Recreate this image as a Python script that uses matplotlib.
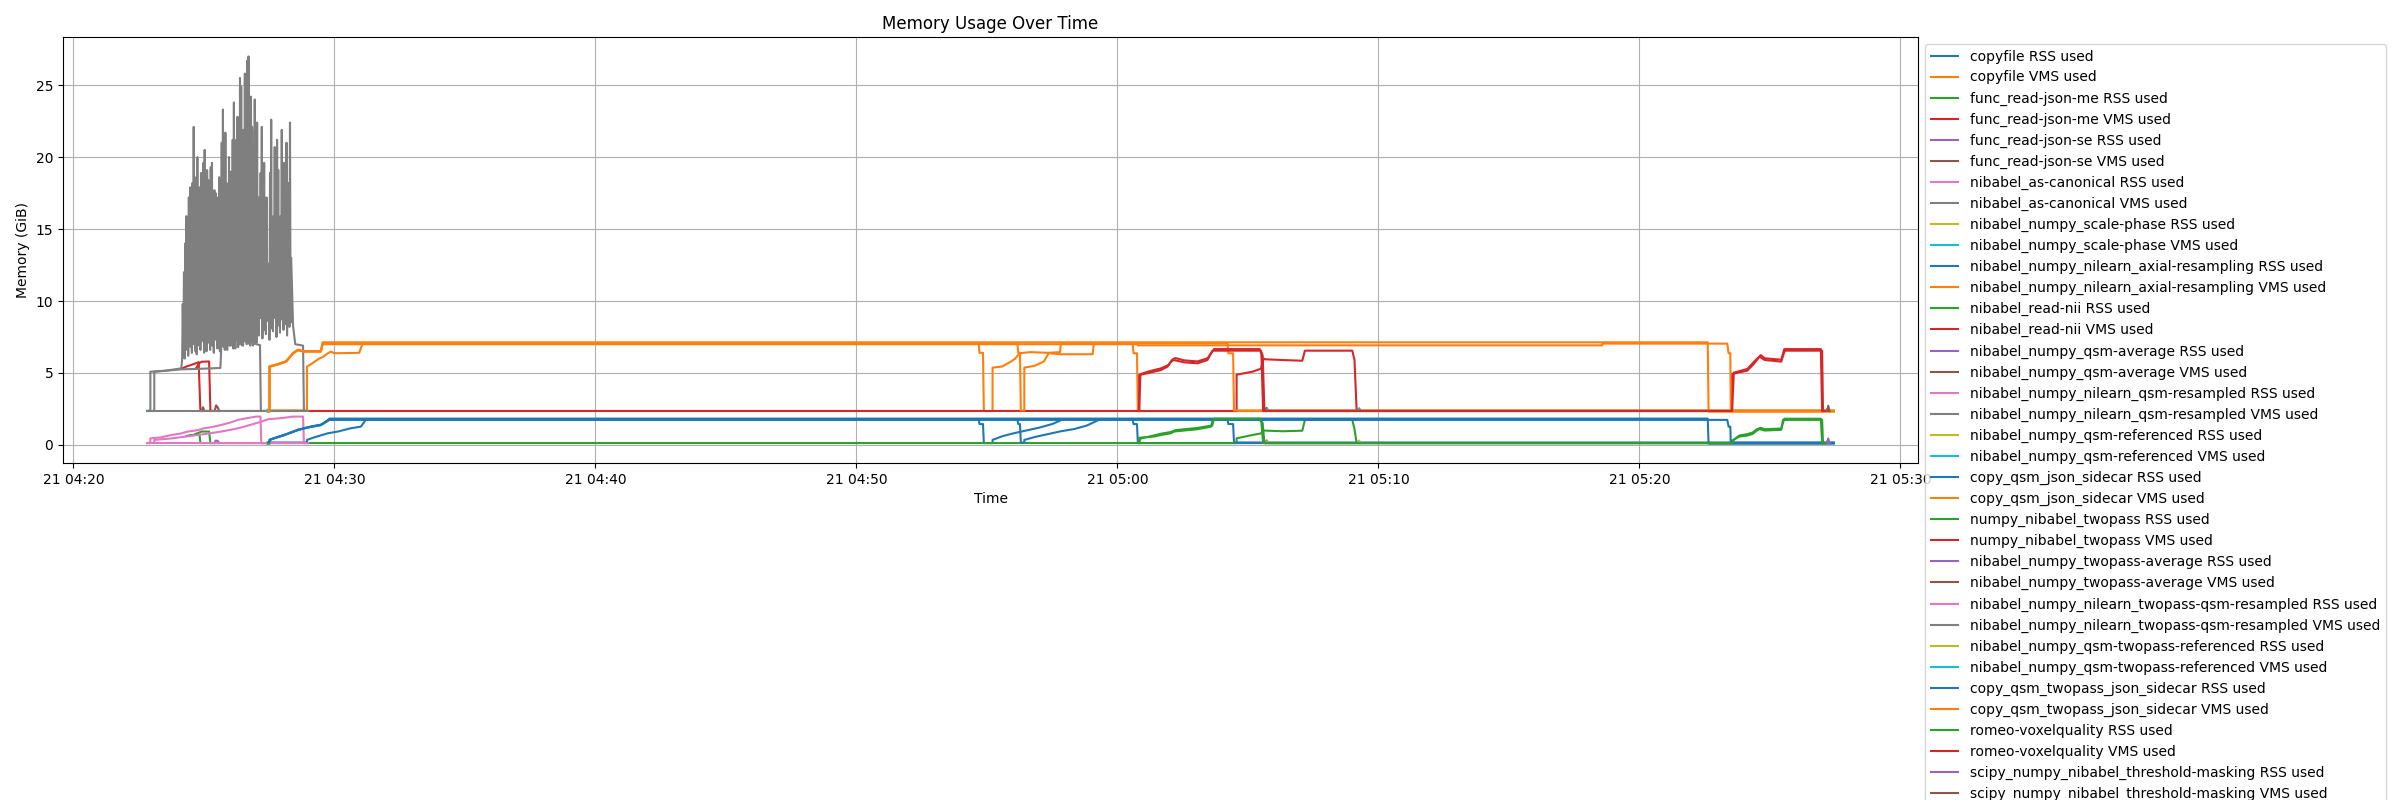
import matplotlib
matplotlib.use("Agg")
import matplotlib.pyplot as plt
import pandas as pd

DAY = "2024-05-21"

# (clock time, GiB) points per series; between jobs a line sits at its idle level
copyfile_rss = [
    ("04:27:27", 0.13), ("04:27:31", 0.13), ("04:27:31", 0.35), ("04:27:42", 0.46), ("04:28:05", 0.69),
    ("04:28:20", 0.86), ("04:28:36", 1.04), ("04:28:51", 1.16), ("04:29:07", 1.27), ("04:29:29", 1.39),
    ("04:29:41", 1.62), ("04:29:49", 1.78), ("04:54:41", 1.78), ("04:54:43", 1.45), ("04:54:51", 1.45),
    ("04:54:53", 0.13), ("04:55:13", 0.13), ("04:55:13", 0.35), ("04:55:35", 0.60), ("04:56:00", 0.80),
    ("04:56:30", 1.00), ("04:57:00", 1.20), ("04:57:30", 1.45), ("04:57:55", 1.78), ("05:00:35", 1.78),
    ("05:00:37", 1.45), ("05:00:45", 1.45), ("05:00:47", 0.13), ("05:27:27", 0.13),
]
copyfile_vms = [
    ("04:27:27", 2.35), ("04:27:31", 2.35), ("04:27:31", 5.45), ("04:27:50", 5.60), ("04:28:09", 5.80),
    ("04:28:25", 6.37), ("04:28:36", 6.60), ("04:28:50", 6.50), ("04:29:29", 6.50), ("04:29:33", 7.06),
    ("04:54:41", 7.06), ("04:54:43", 6.40), ("04:54:51", 6.40), ("04:54:53", 2.35), ("04:55:13", 2.35),
    ("04:55:13", 5.37), ("04:55:35", 5.45), ("04:55:55", 5.79), ("04:56:05", 6.00), ("04:56:15", 6.37),
    ("04:56:40", 6.45), ("04:57:20", 6.40), ("04:57:48", 6.45), ("04:57:50", 7.06), ("05:00:35", 7.06),
    ("05:00:37", 6.37), ("05:00:45", 6.37), ("05:00:47", 2.35), ("05:27:27", 2.35),
]
func_read_json_me_rss = [
    ("04:24:20", 0.62), ("04:24:30", 0.69), ("04:24:50", 0.70), ("04:24:52", 0.13), ("05:04:34", 0.13),
    ("05:04:34", 0.46), ("05:05:12", 0.70), ("05:05:30", 0.80), ("05:05:36", 1.00), ("05:06:20", 0.95),
    ("05:07:05", 0.99), ("05:07:11", 1.74), ("05:09:00", 1.74), ("05:09:05", 1.10), ("05:09:10", 0.13),
    ("05:27:06", 0.13),
]
func_read_json_me_vms = [
    ("04:24:10", 5.32), ("04:24:20", 5.45), ("04:24:35", 5.60), ("04:24:48", 5.75), ("04:24:52", 2.36),
    ("05:04:34", 2.36), ("05:04:34", 4.88), ("05:05:12", 5.10), ("05:05:30", 5.30), ("05:05:36", 6.00),
    ("05:05:40", 5.95), ("05:06:20", 5.90), ("05:07:05", 5.85), ("05:07:11", 6.55), ("05:09:00", 6.55),
    ("05:09:05", 5.90), ("05:09:10", 2.36), ("05:27:06", 2.36),
]
func_read_json_se_rss = [("04:25:24", 0.13), ("04:25:27", 0.30), ("04:25:32", 0.28), ("04:25:35", 0.13)]
func_read_json_se_vms = [
    ("04:24:55", 2.36), ("04:24:58", 2.62), ("04:25:01", 2.36), ("04:25:25", 2.36),
    ("04:25:28", 2.75), ("04:25:32", 2.60), ("04:25:35", 2.36),
]
as_canonical_rss = [
    ("04:22:50", 0.12), ("04:22:57", 0.12), ("04:22:57", 0.46), ("04:23:20", 0.52), ("04:23:45", 0.69),
    ("04:24:05", 0.78), ("04:24:23", 0.93), ("04:24:45", 1.02), ("04:25:01", 1.16), ("04:25:20", 1.25),
    ("04:25:40", 1.39), ("04:26:00", 1.55), ("04:26:18", 1.74), ("04:26:41", 1.87), ("04:27:00", 1.97),
    ("04:27:10", 1.97), ("04:27:12", 0.12), ("04:27:27", 0.12),
]
as_canonical_vms_head = [("04:22:50", 2.36), ("04:22:57", 2.36), ("04:22:57", 5.09), ("04:23:30", 5.15), ("04:24:08", 5.32)]
as_canonical_vms_lows = [
    5.9, 6.3, 6.0, 8.2, 6.6, 6.2, 9.0, 6.8, 6.4, 7.0,
    8.5, 6.5, 6.3, 9.4, 6.9, 6.6, 7.2, 8.8, 6.4, 6.8,
    6.5, 9.6, 7.1, 6.6, 8.0, 6.9, 6.4, 7.3, 9.2, 6.7,
    7.0, 6.5, 8.6, 7.4, 6.8, 7.1, 9.8, 6.6, 7.2, 6.9,
    8.4, 7.5, 6.7, 7.0, 9.1, 7.3, 6.8, 7.1, 8.7, 7.4,
    6.9, 7.2, 9.5, 7.0, 7.3, 8.1, 6.9, 7.2, 7.6, 7.0,
]
as_canonical_vms_highs = [
    9.8, 12.0, 14.0, 15.9, 11.5, 17.2, 17.9, 12.8, 18.2, 22.1,
    13.5, 18.6, 20.0, 11.0, 17.9, 18.9, 14.2, 19.6, 20.5, 12.5,
    19.1, 18.4, 13.0, 19.3, 19.6, 11.8, 17.7, 17.5, 14.5, 17.2,
    18.6, 12.2, 21.0, 23.3, 13.8, 21.7, 18.2, 11.5, 20.0, 16.8,
    13.2, 21.2, 23.8, 12.0, 21.2, 22.8, 14.0, 25.5, 24.9, 12.6,
    21.9, 25.8, 13.4, 26.7, 27.0, 15.0, 24.2, 22.1, 12.8, 21.9,
]
as_canonical_vms_tail = [("04:27:00", 7.00), ("04:27:09", 6.94), ("04:27:11", 2.36), ("04:27:27", 2.36)]
scale_phase_rss = [("04:22:50", 0.13), ("04:22:54", 0.16)]
scale_phase_vms = [("04:22:50", 2.36), ("04:22:54", 2.39)]
axial_resampling_rss = [
    ("04:27:27", 0.17), ("04:28:57", 0.17), ("04:28:57", 0.35), ("04:29:14", 0.53), ("04:29:45", 0.81),
    ("04:30:08", 0.93), ("04:30:38", 1.16), ("04:31:01", 1.27), ("04:31:13", 1.78), ("04:56:10", 1.78),
    ("04:56:12", 1.45), ("04:56:16", 1.45), ("04:56:18", 0.17), ("04:56:26", 0.17), ("04:56:26", 0.35),
    ("04:56:50", 0.55), ("04:57:20", 0.75), ("04:57:50", 0.95), ("04:58:20", 1.10), ("04:58:50", 1.35),
    ("04:59:20", 1.78), ("05:04:13", 1.78), ("05:04:15", 1.45), ("05:04:26", 1.45), ("05:04:28", 0.17),
    ("05:27:27", 0.17),
]
axial_resampling_vms = [
    ("04:27:27", 2.40), ("04:28:57", 2.40), ("04:28:57", 5.44), ("04:29:03", 5.55), ("04:29:25", 6.00),
    ("04:29:33", 6.10), ("04:29:45", 6.37), ("04:29:52", 6.48), ("04:30:00", 6.37), ("04:30:57", 6.40),
    ("04:31:05", 7.06), ("04:56:10", 7.06), ("04:56:12", 6.40), ("04:56:16", 6.40), ("04:56:18", 2.40),
    ("04:56:26", 2.40), ("04:56:26", 5.37), ("04:56:50", 5.50), ("04:57:11", 5.80), ("04:57:22", 6.37),
    ("04:57:50", 6.30), ("04:59:03", 6.30), ("04:59:06", 7.06), ("05:04:13", 7.06), ("05:04:15", 6.37),
    ("05:04:26", 6.37), ("05:04:28", 2.40), ("05:27:27", 2.40),
]
read_nii_rss = [
    ("04:24:40", 0.75), ("04:24:55", 0.93), ("04:25:12", 0.93), ("04:25:15", 0.13), ("04:25:20", 0.13),
]
read_nii_vms = [
    ("04:24:42", 5.33), ("04:24:50", 5.70), ("04:24:55", 5.78), ("04:25:12", 5.80), ("04:25:15", 2.36),
    ("04:25:20", 2.36),
]
qsm_average_rss = [
    ("05:05:40", 0.13), ("05:05:43", 0.32), ("05:05:46", 0.13),
    ("05:09:12", 0.13), ("05:09:15", 0.28), ("05:09:18", 0.13),
]
qsm_average_vms = [
    ("05:05:40", 2.36), ("05:05:43", 2.58), ("05:05:46", 2.36),
    ("05:09:12", 2.36), ("05:09:15", 2.52), ("05:09:18", 2.36),
]
qsm_resampled_rss = [
    ("04:23:06", 0.12), ("04:23:06", 0.35), ("04:23:45", 0.45), ("04:24:23", 0.60), ("04:25:01", 0.75),
    ("04:25:40", 0.93), ("04:26:10", 1.10), ("04:26:33", 1.27), ("04:27:12", 1.62), ("04:27:27", 1.78),
    ("04:28:00", 1.87), ("04:28:25", 1.97), ("04:28:48", 1.97), ("04:28:50", 0.12), ("04:29:00", 0.12),
]
qsm_resampled_vms_head = [
    ("04:22:50", 2.36), ("04:23:06", 2.36), ("04:23:06", 5.09), ("04:24:08", 5.25),
    ("04:25:00", 5.30), ("04:25:38", 5.35),
]
qsm_resampled_vms_lows = [
    6.8, 8.6, 7.2, 6.6, 9.3, 7.4, 7.0, 8.9, 6.9, 7.5,
    7.1, 9.6, 6.7, 7.3, 8.2, 7.6, 7.0, 9.9, 6.9, 7.4,
    8.7, 7.2, 7.8, 9.4, 7.0, 7.3, 8.5, 6.9, 7.5, 9.0,
    7.1, 8.2, 7.6, 10.2, 8.8, 7.4, 9.2, 8.0, 7.7, 10.5,
    8.6, 7.3, 9.5, 8.1, 7.9, 10.8, 8.8, 7.5, 9.0, 8.3,
    7.8, 11.0, 8.7, 8.0, 9.6, 8.4, 7.6, 10.1, 8.2, 8.5,
]
qsm_resampled_vms_highs = [
    14.0, 11.2, 16.5, 12.8, 10.5, 18.0, 15.5, 12.0, 19.0, 13.5,
    17.0, 11.6, 20.0, 15.0, 12.4, 18.5, 22.0, 11.0, 16.0, 19.5,
    13.2, 17.5, 21.0, 12.6, 18.2, 19.6, 11.8, 20.5, 24.0, 13.0,
    22.4, 17.2, 12.2, 18.9, 22.1, 11.5, 19.6, 14.9, 17.2, 10.8,
    12.6, 18.9, 22.6, 11.9, 15.9, 20.7, 12.5, 21.2, 19.1, 10.9,
    15.9, 21.9, 12.1, 19.6, 14.9, 21.0, 11.4, 18.2, 22.4, 13.0,
]
qsm_resampled_vms_tail = [("04:28:25", 8.3), ("04:28:30", 7.0), ("04:28:48", 6.9), ("04:28:50", 2.36), ("04:29:00", 2.36)]
qsm_referenced_rss = [
    ("05:05:42", 0.13), ("05:05:45", 0.25), ("05:05:48", 0.13), ("05:09:13", 0.13), ("05:09:16", 0.30),
    ("05:09:19", 0.13), ("05:27:11", 0.13), ("05:27:14", 0.22), ("05:27:17", 0.13),
]
qsm_referenced_vms = [
    ("05:05:42", 2.36), ("05:05:45", 2.50), ("05:05:48", 2.36), ("05:09:13", 2.36), ("05:09:16", 2.55),
    ("05:09:19", 2.36), ("05:27:11", 2.36), ("05:27:14", 2.55), ("05:27:17", 2.36),
]
copy_qsm_json_sidecar_rss = [
    ("04:27:27", 0.09), ("04:27:31", 0.09), ("04:27:31", 0.33), ("04:27:42", 0.48), ("04:28:05", 0.71),
    ("04:28:20", 0.84), ("04:28:36", 1.06), ("04:28:51", 1.14), ("04:29:07", 1.29), ("04:29:29", 1.41),
    ("04:29:41", 1.64), ("04:29:49", 1.83), ("05:22:37", 1.83), ("05:22:39", 0.09), ("05:27:27", 0.09),
]
copy_qsm_json_sidecar_vms = [
    ("04:27:27", 2.31), ("04:27:31", 2.31), ("04:27:31", 5.47), ("04:27:50", 5.62), ("04:28:09", 5.82),
    ("04:28:25", 6.39), ("04:28:36", 6.62), ("04:28:50", 6.52), ("04:29:29", 6.52), ("04:29:33", 7.13),
    ("05:22:37", 7.13), ("05:22:39", 2.31), ("05:27:27", 2.31),
]
twopass_rss = [
    ("05:00:50", 0.13), ("05:00:50", 0.50), ("05:01:24", 0.58), ("05:01:40", 0.69), ("05:02:03", 0.81),
    ("05:02:10", 0.93), ("05:02:33", 1.00), ("05:03:04", 1.09), ("05:03:27", 1.22), ("05:03:35", 1.27),
    ("05:03:39", 1.74), ("05:05:30", 1.74), ("05:05:34", 1.50), ("05:05:38", 0.13), ("05:23:33", 0.13),
    ("05:23:33", 0.30), ("05:23:50", 0.58), ("05:24:08", 0.65), ("05:24:20", 0.76), ("05:24:30", 1.00),
    ("05:24:36", 1.10), ("05:24:48", 1.00), ("05:25:26", 1.05), ("05:25:30", 1.74), ("05:27:00", 1.74),
    ("05:27:02", 0.13), ("05:27:06", 0.13),
]
twopass_vms = [
    ("05:00:50", 2.36), ("05:00:50", 4.86), ("05:01:09", 4.98), ("05:01:24", 5.09), ("05:01:40", 5.20),
    ("05:01:55", 5.44), ("05:02:03", 5.79), ("05:02:10", 5.90), ("05:02:33", 5.74), ("05:03:04", 5.67),
    ("05:03:27", 5.90), ("05:03:35", 6.37), ("05:03:39", 6.55), ("05:05:30", 6.55), ("05:05:34", 6.20),
    ("05:05:38", 2.36), ("05:23:33", 2.36), ("05:23:33", 4.93), ("05:24:08", 5.16), ("05:24:24", 5.67),
    ("05:24:36", 6.13), ("05:24:48", 5.90), ("05:25:26", 5.79), ("05:25:34", 6.55), ("05:27:00", 6.55),
    ("05:27:02", 2.36), ("05:27:06", 2.36),
]
twopass_average_rss = [("05:27:10", 0.13), ("05:27:13", 0.30), ("05:27:16", 0.13)]
twopass_average_vms = [("05:27:10", 2.36), ("05:27:13", 2.55), ("05:27:16", 2.36)]
twopass_qsm_resampled_rss = [("04:22:50", 0.12), ("04:28:50", 0.12)]
twopass_qsm_resampled_vms = [("04:22:50", 2.36), ("04:28:50", 2.36)]
qsm_twopass_referenced_rss = [("04:27:24", 0.13), ("04:27:26", 0.18), ("04:27:28", 0.11), ("04:27:30", 0.17), ("04:27:32", 0.13)]
qsm_twopass_referenced_vms = [("04:27:24", 2.36), ("04:27:26", 2.45), ("04:27:28", 2.31), ("04:27:30", 2.44), ("04:27:32", 2.36)]
copy_qsm_twopass_json_sidecar_rss = [
    ("04:27:27", 0.15), ("04:27:31", 0.15), ("04:27:31", 0.37), ("04:27:42", 0.47), ("04:28:05", 0.67),
    ("04:28:20", 0.88), ("04:28:36", 1.02), ("04:28:51", 1.18), ("04:29:07", 1.25), ("04:29:29", 1.37),
    ("04:29:41", 1.60), ("04:29:49", 1.74), ("05:23:22", 1.74), ("05:23:25", 1.27), ("05:23:29", 1.27),
    ("05:23:30", 0.15), ("05:27:27", 0.15),
]
copy_qsm_twopass_json_sidecar_vms = [
    ("04:27:27", 2.37), ("04:27:31", 2.37), ("04:27:31", 5.43), ("04:27:50", 5.58), ("04:28:09", 5.78),
    ("04:28:25", 6.35), ("04:28:36", 6.58), ("04:28:50", 6.48), ("04:29:29", 6.48), ("04:29:33", 7.00),
    ("05:00:47", 7.00), ("05:00:47", 6.92), ("05:18:35", 6.92), ("05:18:35", 7.04), ("05:23:22", 7.04),
    ("05:23:25", 6.37), ("05:23:29", 6.37), ("05:23:30", 2.37), ("05:27:27", 2.37),
]
romeo_rss = [
    ("05:00:50", 0.13), ("05:00:53", 0.44), ("05:01:24", 0.66), ("05:01:40", 0.78), ("05:02:03", 0.90),
    ("05:02:13", 1.02), ("05:02:33", 1.09), ("05:03:04", 1.18), ("05:03:27", 1.30), ("05:03:38", 1.34),
    ("05:03:42", 1.82), ("05:05:27", 1.82), ("05:05:31", 1.55), ("05:05:35", 0.13), ("05:23:33", 0.13),
    ("05:23:37", 0.36), ("05:23:50", 0.66), ("05:24:08", 0.75), ("05:24:20", 0.86), ("05:24:30", 1.09),
    ("05:24:39", 1.19), ("05:24:48", 1.09), ("05:25:26", 1.14), ("05:25:33", 1.82), ("05:26:57", 1.82),
    ("05:27:00", 0.13), ("05:27:06", 0.13),
]
romeo_vms = [
    ("05:00:50", 2.36), ("05:00:53", 4.92), ("05:01:09", 5.08), ("05:01:24", 5.20), ("05:01:40", 5.32),
    ("05:01:58", 5.56), ("05:02:06", 5.92), ("05:02:13", 6.04), ("05:02:33", 5.88), ("05:03:04", 5.80),
    ("05:03:27", 6.02), ("05:03:38", 6.47), ("05:03:42", 6.66), ("05:05:27", 6.66), ("05:05:31", 6.30),
    ("05:05:35", 2.36), ("05:23:33", 2.36), ("05:23:37", 5.02), ("05:24:08", 5.28), ("05:24:24", 5.80),
    ("05:24:39", 6.24), ("05:24:48", 6.02), ("05:25:26", 5.92), ("05:25:33", 6.66), ("05:26:57", 6.66),
    ("05:27:00", 2.36), ("05:27:06", 2.36),
]
threshold_masking_rss = [("05:27:12", 0.13), ("05:27:14", 0.45), ("05:27:17", 0.13)]
threshold_masking_vms = [("05:27:12", 2.36), ("05:27:14", 2.72), ("05:27:17", 2.36)]


def spiky(start, lows, highs, step_s):
    """ 采样值交替：低点、高点，每 step_s 秒一个 """
    t0 = pd.Timestamp(f"{DAY} {start}")
    pts = []
    for i, (lo, hi) in enumerate(zip(lows, highs)):
        pts.append(((t0 + pd.Timedelta(seconds=step_s * 2 * i)).strftime("%H:%M:%S.%f"), lo))
        pts.append(((t0 + pd.Timedelta(seconds=step_s * (2 * i + 1))).strftime("%H:%M:%S.%f"), hi))
    return pts


as_canonical_vms = (as_canonical_vms_head
                    + spiky("04:24:10", as_canonical_vms_lows, as_canonical_vms_highs, 1.4)
                    + as_canonical_vms_tail)
qsm_resampled_vms = (qsm_resampled_vms_head
                     + spiky("04:25:40", qsm_resampled_vms_lows, qsm_resampled_vms_highs, 1.35)
                     + qsm_resampled_vms_tail)

series = [
    ("copyfile", copyfile_rss, copyfile_vms),
    ("func_read-json-me", func_read_json_me_rss, func_read_json_me_vms),
    ("func_read-json-se", func_read_json_se_rss, func_read_json_se_vms),
    ("nibabel_as-canonical", as_canonical_rss, as_canonical_vms),
    ("nibabel_numpy_scale-phase", scale_phase_rss, scale_phase_vms),
    ("nibabel_numpy_nilearn_axial-resampling", axial_resampling_rss, axial_resampling_vms),
    ("nibabel_read-nii", read_nii_rss, read_nii_vms),
    ("nibabel_numpy_qsm-average", qsm_average_rss, qsm_average_vms),
    ("nibabel_numpy_nilearn_qsm-resampled", qsm_resampled_rss, qsm_resampled_vms),
    ("nibabel_numpy_qsm-referenced", qsm_referenced_rss, qsm_referenced_vms),
    ("copy_qsm_json_sidecar", copy_qsm_json_sidecar_rss, copy_qsm_json_sidecar_vms),
    ("numpy_nibabel_twopass", twopass_rss, twopass_vms),
    ("nibabel_numpy_twopass-average", twopass_average_rss, twopass_average_vms),
    ("nibabel_numpy_nilearn_twopass-qsm-resampled", twopass_qsm_resampled_rss, twopass_qsm_resampled_vms),
    ("nibabel_numpy_qsm-twopass-referenced", qsm_twopass_referenced_rss, qsm_twopass_referenced_vms),
    ("copy_qsm_twopass_json_sidecar", copy_qsm_twopass_json_sidecar_rss, copy_qsm_twopass_json_sidecar_vms),
    ("romeo-voxelquality", romeo_rss, romeo_vms),
    ("scipy_numpy_nibabel_threshold-masking", threshold_masking_rss, threshold_masking_vms),
]


def to_xy(points):
    xs = pd.to_datetime([f"{DAY} {t}" for t, _ in points], format="mixed")
    ys = [v for _, v in points]
    return xs, ys


fig = plt.figure(figsize=(24, 8), dpi=100)
ax = fig.add_axes([0.02625, 0.42125, 0.773, 0.5325])

for name, rss, vms in series:
    xs, ys = to_xy(rss)
    ax.plot(xs, ys, label=f"{name} RSS used")
    xs, ys = to_xy(vms)
    ax.plot(xs, ys, label=f"{name} VMS used")

ax.set_title("Memory Usage Over Time")
ax.set_xlabel("Time")
ax.set_ylabel("Memory (GiB)")
ax.grid(True)
ax.legend(loc="upper left", bbox_to_anchor=(1, 1))

fig.savefig("out.png")
